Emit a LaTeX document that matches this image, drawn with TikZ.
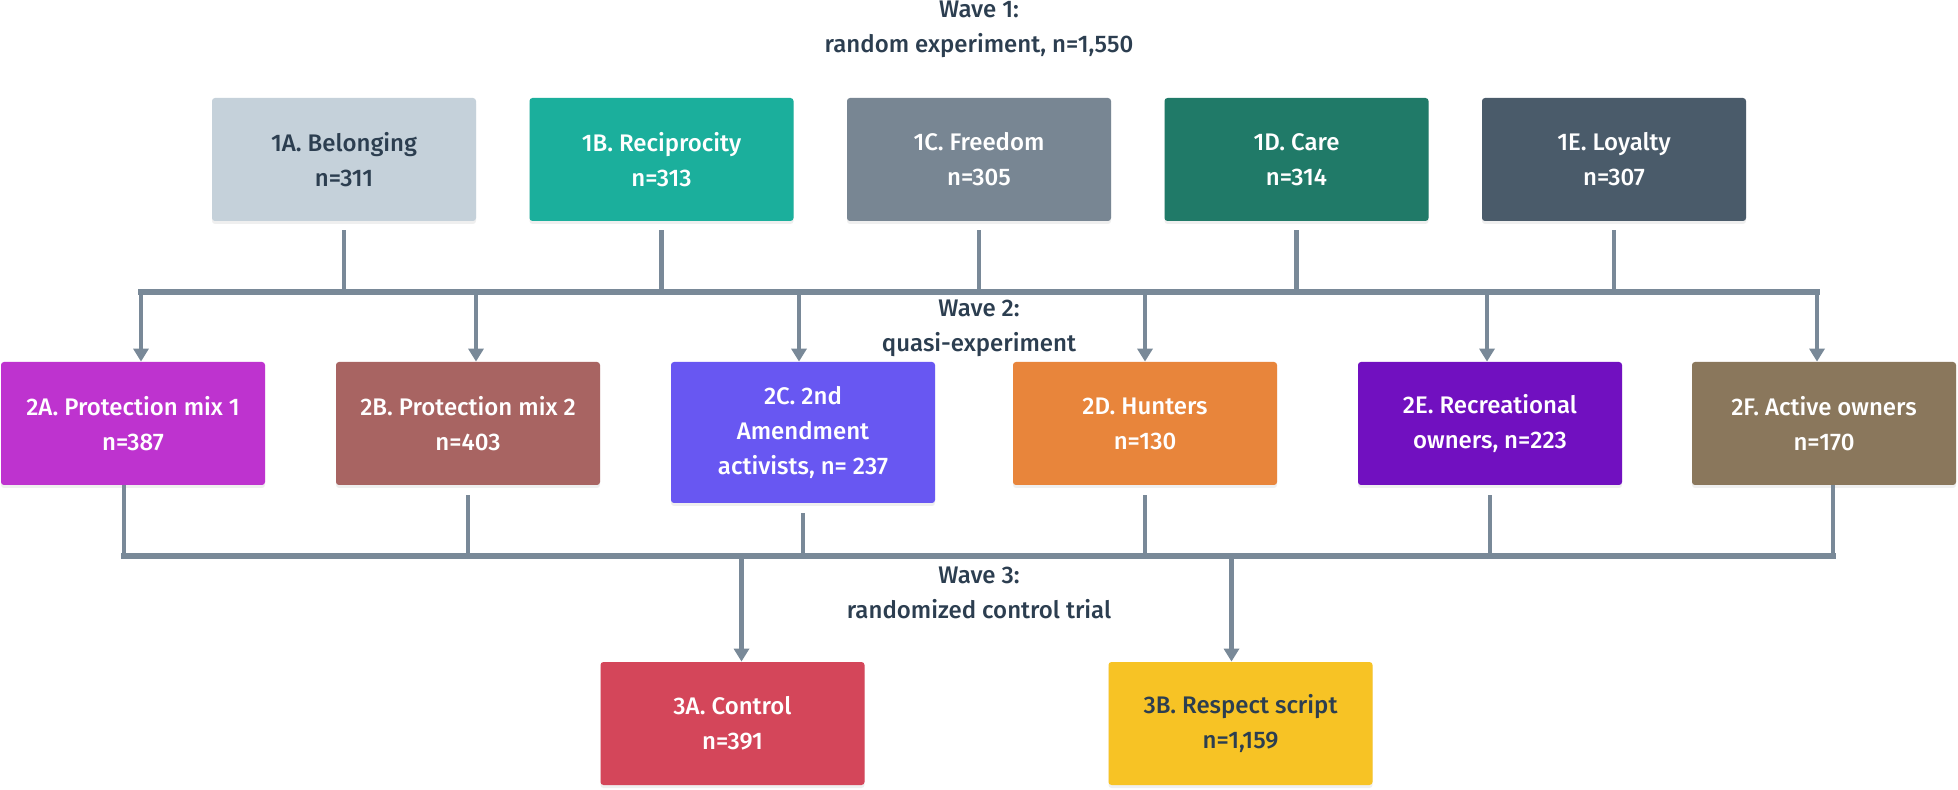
\documentclass[tikz,border=0pt]{standalone}
\usepackage{fontspec}
\setmainfont{Fira Sans}[UprightFont={* Medium}]
\usepackage{tikz}
\usetikzlibrary{arrows.meta, shadows, calc}

\definecolor{ink}{HTML}{2C3E50}
\definecolor{linegray}{HTML}{798998}
\definecolor{belong}{HTML}{C5D1DA}
\definecolor{recip}{HTML}{1BAF9C}
\definecolor{freedom}{HTML}{788693}
\definecolor{care}{HTML}{207A68}
\definecolor{loyal}{HTML}{4A5B6A}
\definecolor{protA}{HTML}{BE33CF}
\definecolor{protB}{HTML}{A86462}
\definecolor{amend}{HTML}{6857F2}
\definecolor{hunt}{HTML}{E8853B}
\definecolor{recre}{HTML}{7110C0}
\definecolor{active}{HTML}{8A775C}
\definecolor{control}{HTML}{D4465A}
\definecolor{respect}{HTML}{F7C325}

\begin{document}
\begin{tikzpicture}[x=0.5pt, y=0.5pt, node distance=158.75pt, font=\fontsize{12}{17.5}\selectfont]
% Styles
\tikzstyle{wavebox} = [rectangle, rounded corners=1.5pt, minimum width=132pt, minimum height=61.5pt, text centered, align=center, inner sep=4pt, text=white, drop shadow={shadow xshift=0pt, shadow yshift=-1.5pt, opacity=0.12}]
\tikzstyle{wavelabel} = [align=center, text=ink]
\tikzstyle{stub} = [line width=2.2pt, draw=linegray]
\tikzstyle{bus} = [line width=3pt, draw=linegray, line cap=rect]
\tikzstyle{arrow} = [line width=2.2pt, draw=linegray, -{Triangle[width=7.5pt,length=6.5pt]}]

\fill[white] (0,0) rectangle (1958,-790);
\useasboundingbox (0,0) rectangle (1958,-790);

% Wave 1
\node (wave1) [wavelabel] at (979,-29.5) {Wave 1:\\random experiment, n=1,550};
\node (w1a) [wavebox, fill=belong, text=ink] at (344,-159.5) {1A. Belonging\\n=311};
\node (w1b) [wavebox, fill=recip, right of=w1a] {1B. Reciprocity\\n=313};
\node (w1c) [wavebox, fill=freedom, right of=w1b] {1C. Freedom\\n=305};
\node (w1d) [wavebox, fill=care, right of=w1c] {1D. Care\\n=314};
\node (w1e) [wavebox, fill=loyal, right of=w1d] {1E. Loyalty\\n=307};

% Wave 2
\node (wave2) [wavelabel] at (979,-328.5) {Wave 2:\\quasi-experiment};
\node (w2a) [wavebox, fill=protA] at (133,-423.5) {2A. Protection mix 1\\n=387};
\node (w2b) [wavebox, fill=protB, right of=w2a, xshift=8.75pt] {2B. Protection mix 2\\n=403};
\node (w2c) [wavebox, fill=amend, minimum height=70.5pt, right of=w2b, xshift=8.75pt, yshift=-4.5pt] {2C. 2nd\\Amendment\\activists, n= 237};
\node (w2d) [wavebox, fill=hunt, right of=w2c, xshift=12.25pt, yshift=4.5pt] {2D. Hunters\\n=130};
\node (w2e) [wavebox, fill=recre, right of=w2d, xshift=13.75pt] {2E. Recreational\\owners, n=223};
\node (w2f) [wavebox, fill=active, right of=w2e, xshift=8.25pt] {2F. Active owners\\n=170};

% Wave 3
\node (wave3) [wavelabel] at (979,-592.5) {Wave 3:\\randomized control trial};
\node (w3a) [wavebox, fill=control] at (732.5,-723.5) {3A. Control\\n=391};
\node (w3b) [wavebox, fill=respect, text=ink, right of=w3a, xshift=95.25pt] {3B. Respect script\\n=1,159};

\coordinate (bus1l) at (141,-292);
\coordinate (bus1r) at (1817,-292);
\coordinate (bus2l) at (124,-556);
\coordinate (bus2r) at (1833,-556);

% wave 1 -> wave 2
\foreach \n in {w1a,w1b,w1c,w1d,w1e}
  \draw [stub] ([yshift=-4.5pt]\n.south) -- (\n.south |- bus1l);
\draw [arrow] (bus1l) -- (bus1l |- w2a.north);
\draw [arrow] ([xshift=4pt]w2b.north |- bus1l) -- ([xshift=4pt]w2b.north);
\draw [arrow] ([xshift=-2pt]w2c.north |- bus1l) -- ([xshift=-2pt]w2c.north);
\draw [arrow] (w2d.north |- bus1l) -- (w2d.north);
\draw [arrow] ([xshift=-1.5pt]w2e.north |- bus1l) -- ([xshift=-1.5pt]w2e.north);
\draw [arrow] (bus1r) -- (bus1r |- w2f.north);
\draw [bus] (bus1l) -- (bus1r);

% wave 2 -> wave 3
\draw [stub] (w2a.south -| bus2l) -- (bus2l);
\foreach \n in {w2b,w2c,w2d,w2e}
  \draw [stub] ([yshift=-5pt]\n.south) -- (\n.south |- bus2l);
\draw [stub] (w2f.south -| bus2r) -- (bus2r);
\draw [arrow] ([xshift=4.5pt]w3a.north |- bus2l) -- ([xshift=4.5pt]w3a.north);
\draw [arrow] ([xshift=-4.5pt]w3b.north |- bus2l) -- ([xshift=-4.5pt]w3b.north);
\draw [bus] (bus2l) -- (bus2r);

\end{tikzpicture}
\end{document}
